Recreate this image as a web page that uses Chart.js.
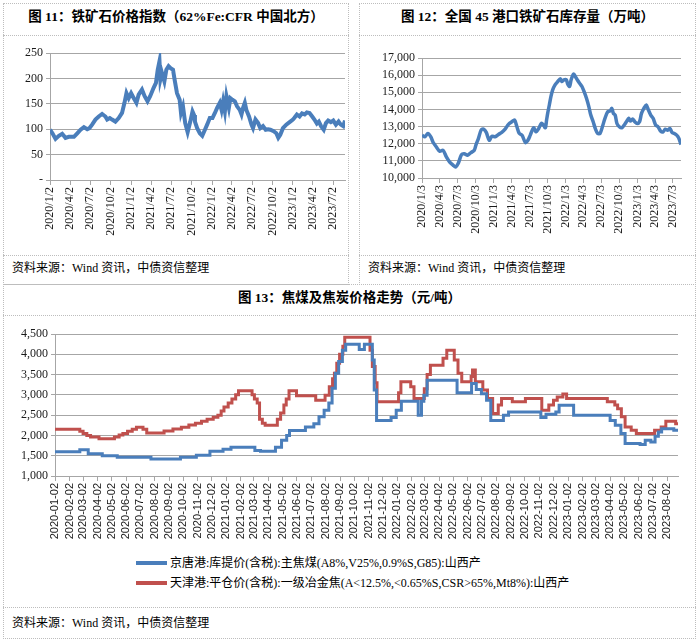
<!DOCTYPE html>
<html>
<head>
<meta charset="utf-8">
<script src="https://cdn.jsdelivr.net/npm/chart.js@4.4.0/dist/chart.umd.min.js"></script>
<style>
  body { margin:0; background:#fff; width:700px; height:641px; position:relative; overflow:hidden;
         font-family:"Liberation Serif","Noto Sans CJK SC",serif; color:#000; }
  .panel { position:absolute; border:1px dotted #bdbdbd; box-sizing:border-box; }
  .title { position:absolute; text-align:center; font-weight:bold; font-size:13.5px; line-height:18px; }
  .sep { position:absolute; border-top:1px dotted #bdbdbd; height:0; }
  .src { position:absolute; font-size:12px; line-height:16px; }
  .box { position:absolute; }
  .leg { position:absolute; left:136px; font-size:12px; line-height:16px; white-space:nowrap; }
  .sw { display:inline-block; width:31px; height:4px; vertical-align:middle; margin-right:3px; position:relative; top:-1px; }
</style>
</head>
<body>
<div class="panel" style="left:3px;top:3px;width:346px;height:282px"></div>
<div class="panel" style="left:359px;top:3px;width:337px;height:282px"></div>
<div class="panel" style="left:3px;top:284px;width:693px;height:355px"></div>

<div class="title" style="left:3px;width:346px;top:8px">图 11：铁矿石价格指数（62%Fe:CFR 中国北方）</div>
<div class="sep" style="left:3px;width:346px;top:35px"></div>
<div class="sep" style="left:3px;width:346px;top:255px"></div>
<div class="src" style="left:12px;top:260px">资料来源：Wind 资讯，中债资信整理</div>

<div class="title" style="left:359px;width:337px;top:8px">图 12：全国 45 港口铁矿石库存量（万吨）</div>
<div class="sep" style="left:359px;width:337px;top:35px"></div>
<div class="sep" style="left:359px;width:337px;top:255px"></div>
<div class="src" style="left:368px;top:260px">资料来源：Wind 资讯，中债资信整理</div>

<div class="title" style="left:3px;width:693px;top:289px">图 13：焦煤及焦炭价格走势（元/吨）</div>
<div class="sep" style="left:3px;width:693px;top:315px"></div>
<div class="sep" style="left:3px;width:693px;top:607px"></div>
<div class="src" style="left:12px;top:615px">资料来源：Wind 资讯，中债资信整理</div>

<div class="box" style="left:0;top:40px"><canvas id="c11" width="350" height="210"></canvas></div>
<div class="box" style="left:355px;top:40px"><canvas id="c12" width="345" height="210"></canvas></div>
<div class="box" style="left:0;top:320px"><canvas id="c13" width="700" height="225"></canvas></div>

<div class="leg" style="top:555px"><span class="sw" style="background:#4a7ebb"></span>京唐港:库提价(含税):主焦煤(A8%,V25%,0.9%S,G85):山西产</div>
<div class="leg" style="top:575px"><span class="sw" style="background:#c0504d"></span>天津港:平仓价(含税):一级冶金焦(A&lt;12.5%,&lt;0.65%S,CSR&gt;65%,Mt8%):山西产</div>

<script>
// 图11 铁矿石价格指数
const ironDates = ['2020-01-02','2020-01-13','2020-01-27','2020-02-11','2020-02-26','2020-03-12','2020-03-27','2020-04-19','2020-05-04','2020-05-19',
  '2020-06-03','2020-06-18','2020-06-28','2020-07-10','2020-07-25','2020-08-09','2020-08-24','2020-09-08','2020-09-16','2020-09-28',
  '2020-10-08','2020-10-23','2020-11-07','2020-11-22','2020-12-03','2020-12-12','2020-12-22','2021-01-02','2021-01-14','2021-01-26',
  '2021-02-05','2021-02-20','2021-03-04','2021-03-17','2021-03-29','2021-04-13','2021-04-24','2021-05-02','2021-05-10','2021-05-14',
  '2021-05-21','2021-06-01','2021-06-10','2021-06-20','2021-06-29','2021-07-10','2021-07-17','2021-07-28','2021-08-09','2021-08-15',
  '2021-08-24','2021-09-03','2021-09-14','2021-09-26','2021-10-06','2021-10-13','2021-10-17','2021-10-27','2021-11-08','2021-11-19',
  '2021-12-01','2021-12-11','2021-12-23','2022-01-04','2022-01-15','2022-01-25','2022-02-06','2022-02-14','2022-02-21','2022-03-01',
  '2022-03-08','2022-03-19','2022-03-26','2022-04-04','2022-04-15','2022-04-25','2022-05-07','2022-05-15','2022-05-22','2022-05-30',
  '2022-06-06','2022-06-18','2022-06-29','2022-07-06','2022-07-17','2022-07-29','2022-08-08','2022-08-20','2022-09-01','2022-09-12',
  '2022-09-22','2022-10-07','2022-10-19','2022-10-28','2022-11-06','2022-11-18','2022-12-03','2022-12-18','2023-01-02','2023-01-08',
  '2023-01-20','2023-02-01','2023-02-12','2023-02-24','2023-03-06','2023-03-18','2023-03-30','2023-04-09','2023-04-20','2023-04-29',
  '2023-05-09','2023-05-21','2023-05-31','2023-06-10','2023-06-22','2023-07-03','2023-07-15','2023-07-27','2023-08-06','2023-08-17',
  '2023-08-25'];
const ironIndex = [99,92,81,87,91,83,85,85,92,99,
  104,100,102,109,119,125,130,125,119,122,
  119,115,122,132,152,171,161,171,161,152,
  168,178,165,155,165,181,191,217,234,198,
  211,194,217,224,220,217,198,171,158,132,
  145,112,94,115,135,128,115,102,92,87,
  99,109,122,122,132,142,152,138,155,135,
  165,142,161,158,155,145,138,129,142,152,
  138,125,109,102,119,112,102,106,99,100,
  99,96,92,83,89,102,109,114,119,122,
  129,125,131,129,133,132,125,119,111,115,
  106,99,112,117,114,117,109,115,109,106,
  117];
const ironTicks = ['2020/1/2','2020/4/2','2020/7/2','2020/10/2','2021/1/2','2021/4/2','2021/7/2','2021/10/2',
  '2022/1/2','2022/4/2','2022/7/2','2022/10/2','2023/1/2','2023/4/2','2023/7/2'];

// 图12 45港口铁矿石库存
const stockDates = ['2020-01-03','2020-01-17','2020-02-02','2020-02-17','2020-02-29','2020-03-16','2020-04-02','2020-04-19','2020-05-06','2020-05-23',
  '2020-06-10','2020-06-22','2020-07-05','2020-07-22','2020-08-05','2020-08-22','2020-09-08','2020-09-25','2020-10-04','2020-10-16',
  '2020-10-30','2020-11-11','2020-11-25','2020-12-10','2020-12-24','2021-01-09','2021-01-26','2021-02-12','2021-03-01','2021-03-18',
  '2021-04-04','2021-04-18','2021-04-30','2021-05-12','2021-05-26','2021-06-12','2021-06-25','2021-07-07','2021-07-24','2021-08-05',
  '2021-08-19','2021-09-02','2021-09-14','2021-09-22','2021-09-28','2021-10-04','2021-10-12','2021-10-20','2021-10-29','2021-11-10',
  '2021-11-24','2021-12-07','2021-12-14','2021-12-25','2022-01-06','2022-01-14','2022-01-23','2022-01-31','2022-02-12','2022-02-21',
  '2022-03-03','2022-03-15','2022-03-27','2022-04-07','2022-04-19','2022-05-01','2022-05-11','2022-05-23','2022-06-04','2022-06-15',
  '2022-06-27','2022-07-09','2022-07-22','2022-08-05','2022-08-17','2022-08-26','2022-09-03','2022-09-12','2022-09-21','2022-10-03',
  '2022-10-16','2022-10-28','2022-11-08','2022-11-20','2022-11-28','2022-12-10','2022-12-21','2023-01-02','2023-01-14','2023-01-24',
  '2023-02-05','2023-02-17','2023-02-28','2023-03-12','2023-03-24','2023-04-06','2023-04-18','2023-05-02','2023-05-14','2023-05-25',
  '2023-06-06','2023-06-18','2023-06-28','2023-07-10','2023-07-22','2023-08-01','2023-08-13'];
const stockValues = [12500,12400,12600,12400,12070,11810,11560,11620,11230,10930,
  10740,10640,10840,11360,11420,11330,11480,11620,11950,12300,
  12800,12850,12660,12200,12440,12400,12540,12660,12850,13130,
  13280,13380,12990,12600,12500,12070,12200,12500,12930,12690,
  12890,13190,13050,12930,13380,13800,14260,14750,15140,15430,
  15630,15790,15630,15730,15730,15470,15340,15730,16060,15920,
  15730,15530,15340,15040,14650,14160,13670,13280,12850,12600,
  12600,12990,13480,13870,13910,14060,13770,13670,13180,12990,
  12930,13090,13280,13480,13320,13440,13280,13180,13280,13770,
  14060,14260,13970,13670,13480,13090,12990,12730,12690,12850,
  12790,12890,12660,12600,12500,12340,11950];
const stockTicks = ['2020/1/3','2020/4/3','2020/7/3','2020/10/3','2021/1/3','2021/4/3','2021/7/3','2021/10/3',
  '2022/1/3','2022/4/3','2022/7/3','2022/10/3','2023/1/3','2023/4/3','2023/7/3'];

// 图13 焦煤(蓝) 焦炭(红) 价格，每个值持续到下一个日期
const coalDates = ['2020-01-02','2020-02-24','2020-03-13','2020-04-12','2020-05-14','2020-07-25','2020-09-26','2020-10-30','2020-11-28','2020-12-26',
  '2021-01-12','2021-03-04','2021-03-16','2021-04-17','2021-04-30','2021-05-11','2021-05-17','2021-06-20','2021-07-08','2021-07-19',
  '2021-07-30','2021-08-09','2021-08-16','2021-08-23','2021-08-30','2021-09-07','2021-09-14','2021-10-13','2021-10-24','2021-11-10',
  '2021-11-14','2021-11-19','2021-12-20','2021-12-31','2022-01-11','2022-02-16','2022-02-23','2022-02-28','2022-03-07','2022-05-10',
  '2022-06-10','2022-06-20','2022-07-01','2022-07-12','2022-07-21','2022-08-17','2022-08-28','2022-11-05','2022-11-16','2022-12-07',
  '2022-12-14','2023-01-14','2023-04-02','2023-04-13','2023-04-25','2023-05-04','2023-06-05','2023-06-16','2023-06-28','2023-07-07',
  '2023-07-14','2023-07-21','2023-08-16','2023-08-25'];
const coalPrice = [1600,1650,1550,1500,1460,1420,1460,1510,1610,1660,
  1710,1630,1610,1710,1880,2000,2120,2210,2290,2460,
  2620,2800,3160,3530,3820,4100,4250,4120,4250,3860,
  3120,2370,2440,2620,2840,2500,2840,2990,3360,3050,
  3280,3130,3030,2870,2370,2500,2580,2440,2520,2580,
  2745,2500,2370,2250,2050,1800,1775,1880,1840,1980,
  2085,2165,2130,2130];
const cokeDates = ['2020-01-02','2020-02-24','2020-03-02','2020-03-10','2020-03-18','2020-04-05','2020-05-08','2020-05-18','2020-05-26','2020-06-05',
  '2020-06-15','2020-06-24','2020-07-08','2020-07-16','2020-08-22','2020-09-10','2020-09-28','2020-10-14','2020-10-28','2020-11-10',
  '2020-11-22','2020-12-05','2020-12-15','2020-12-22','2020-12-28','2021-01-06','2021-01-14','2021-01-22','2021-01-28','2021-02-26',
  '2021-03-03','2021-03-09','2021-03-14','2021-03-20','2021-03-26','2021-04-21','2021-04-28','2021-05-05','2021-05-10','2021-05-16',
  '2021-06-01','2021-07-12','2021-08-01','2021-08-10','2021-08-17','2021-08-21','2021-08-26','2021-09-01','2021-09-08','2021-09-12',
  '2021-11-05','2021-11-10','2021-11-16','2021-11-20','2022-01-05','2022-01-10','2022-01-31','2022-02-07','2022-03-01','2022-03-07',
  '2022-03-14','2022-04-10','2022-04-18','2022-05-04','2022-05-12','2022-05-20','2022-06-09','2022-06-12','2022-06-18','2022-07-04',
  '2022-07-14','2022-07-25','2022-08-06','2022-08-13','2022-09-05','2022-10-03','2022-11-07','2022-11-22','2022-12-02','2022-12-10',
  '2022-12-22','2022-12-30','2023-03-27','2023-04-12','2023-04-18','2023-04-26','2023-05-04','2023-05-17','2023-05-28','2023-07-06',
  '2023-07-20','2023-07-30','2023-08-20','2023-08-25'];
const cokePrice = [2150,2100,2050,2000,1960,1920,1960,2010,2050,2100,
  2150,2200,2150,2060,2110,2160,2200,2260,2300,2350,
  2400,2450,2500,2600,2700,2800,2900,3000,3100,3000,
  2900,2800,2400,2300,2250,2400,2550,2750,2900,3100,
  2980,2870,2990,3200,3400,3530,3780,4000,4200,4420,
  4100,3700,3300,2830,3050,3320,3200,2910,3150,3500,
  3730,3900,4100,3860,3530,3320,3450,3610,3320,3120,
  2910,2540,2750,2910,2830,2910,2620,2750,2870,2950,
  3020,2910,2830,2750,2660,2460,2210,2130,2045,2130,
  2210,2350,2290,2290];
const monthTicks = ['2020-01-02','2020-02-02','2020-03-02','2020-04-02','2020-05-02','2020-06-02','2020-07-02','2020-08-02','2020-09-02','2020-10-02',
  '2020-11-02','2020-12-02','2021-01-02','2021-02-02','2021-03-02','2021-04-02','2021-05-02','2021-06-02','2021-07-02','2021-08-02',
  '2021-09-02','2021-10-02','2021-11-02','2021-12-02','2022-01-02','2022-02-02','2022-03-02','2022-04-02','2022-05-02','2022-06-02',
  '2022-07-02','2022-08-02','2022-09-02','2022-10-02','2022-11-02','2022-12-02','2023-01-02','2023-02-02','2023-03-02','2023-04-02',
  '2023-05-02','2023-06-02','2023-07-02','2023-08-02'];

const SERIF = '"Liberation Serif","Noto Sans CJK SC",serif';
const SANS = '"Liberation Sans","Noto Sans CJK SC",sans-serif';
const GRID = '#a6a6a6';
Chart.defaults.font.family = SERIF;
Chart.defaults.color = '#1a1a1a';

// 日期字符串 -> 天数
function dayOf(s) {
  const p = s.split(/[-\/]/).map(Number);
  return Date.UTC(p[0], p[1] - 1, p[2]) / 86400000;
}
function points(dates, vals) {
  return dates.map((d, i) => ({ x: dayOf(d), y: vals[i] }));
}

// x轴：按给定日期放刻度，标签竖排
function dateAxis(ticks, first, last, axisHeight, font) {
  return {
    type: 'linear',
    min: dayOf(first),
    max: dayOf(last),
    afterBuildTicks: (axis) => { axis.ticks = ticks.map(t => ({ value: dayOf(t) })); },
    afterFit: (scale) => { scale.height = axisHeight; },
    grid: { drawOnChartArea: false, drawTicks: true, tickLength: 5, color: GRID },
    border: { color: GRID },
    ticks: {
      autoSkip: false, minRotation: 90, maxRotation: 90, padding: 2,
      font: font,
      callback: (v, i) => ticks[i]
    }
  };
}
function valueAxis(min, max, step, axisWidth, fmt) {
  return {
    min: min, max: max,
    afterFit: (scale) => { scale.width = axisWidth; },
    grid: { color: GRID, tickLength: 4 },
    border: { color: GRID },
    ticks: { stepSize: step, autoSkip: false, padding: 3, font: { size: 12 }, callback: fmt }
  };
}

new Chart(document.getElementById('c11'), {
  type: 'line',
  data: {
    datasets: [{
      data: points(ironDates, ironIndex),
      borderColor: '#4a7ebb', borderWidth: 4, pointRadius: 0, tension: 0
    }]
  },
  options: {
    responsive: false, animation: false,
    layout: { padding: { top: 13, right: 5, left: 0, bottom: 0 } },
    plugins: { legend: { display: false }, tooltip: { enabled: false } },
    scales: {
      x: dateAxis(ironTicks, ironDates[0], ironDates[ironDates.length - 1], 70, { size: 12 }),
      y: valueAxis(0, 250, 50, 50, (v) => v === 0 ? '-' : v)
    }
  }
});

new Chart(document.getElementById('c12'), {
  type: 'line',
  data: {
    datasets: [{
      data: points(stockDates, stockValues),
      borderColor: '#4a7ebb', borderWidth: 3.5, pointRadius: 0, tension: 0.3
    }]
  },
  options: {
    responsive: false, animation: false,
    layout: { padding: { top: 18, right: 19, left: 0, bottom: 0 } },
    plugins: { legend: { display: false }, tooltip: { enabled: false } },
    scales: {
      x: dateAxis(stockTicks, stockDates[0], stockDates[stockDates.length - 1], 72, { size: 12 }),
      y: valueAxis(10000, 17000, 1000, 67, (v) => v.toLocaleString('en-US'))
    }
  }
});

new Chart(document.getElementById('c13'), {
  type: 'line',
  data: {
    datasets: [{
      label: '京唐港:库提价(含税):主焦煤(A8%,V25%,0.9%S,G85):山西产',
      data: points(coalDates, coalPrice),
      borderColor: '#4a7ebb', borderWidth: 3, pointRadius: 0, stepped: true
    }, {
      label: '天津港:平仓价(含税):一级冶金焦(A<12.5%,<0.65%S,CSR>65%,Mt8%):山西产',
      data: points(cokeDates, cokePrice),
      borderColor: '#c0504d', borderWidth: 3, pointRadius: 0, stepped: true
    }]
  },
  options: {
    responsive: false, animation: false,
    layout: { padding: { top: 14, right: 22, left: 0, bottom: 0 } },
    plugins: { legend: { display: false }, tooltip: { enabled: false } },
    scales: {
      x: dateAxis(monthTicks, '2020-01-02', '2023-08-25', 69, { size: 11, family: SANS }),
      y: valueAxis(1000, 4500, 500, 55, (v) => v.toLocaleString('en-US'))
    }
  }
});
</script>
</body>
</html>
